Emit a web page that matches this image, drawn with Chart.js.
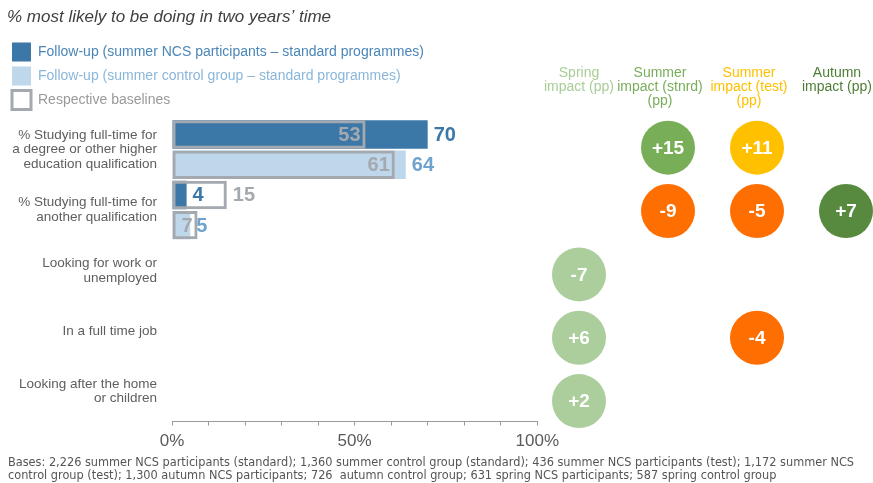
<!DOCTYPE html>
<html>
<head>
<meta charset="utf-8">
<script src="https://cdn.jsdelivr.net/npm/chart.js@4.4.1/dist/chart.umd.min.js"></script>
<style>
  body { margin: 0; background: #fff; }
  #wrap { position: relative; width: 873px; height: 483px; }
  canvas { position: absolute; left: 0; top: 0; }
</style>
</head>
<body>
<div id="wrap">
  <canvas id="barras" width="565" height="483"></canvas>
  <canvas id="impacto" width="873" height="483"></canvas>
</div>
<script>
const categorias = [
  ["% Studying full-time for", "a degree or other higher", "education qualification"],
  ["% Studying full-time for", "another qualification"],
  ["Looking for work or", "unemployed"],
  ["In a full time job"],
  ["Looking after the home", "or children"]
];
const participantes = [70, 4, null, null, null];
const controle = [64, 5, null, null, null];
const participantesBase = [53, 15, null, null, null];
const controleBase = [61, 7, null, null, null];
const rotulosX = [0, 50, 100];

const colunas = [
  ["Spring", "impact (pp)"],
  ["Summer", "impact (stnrd)", "(pp)"],
  ["Summer", "impact (test)", "(pp)"],
  ["Autumn", "impact (pp)"]
];
const impactoSpring = [null, null, -7, 6, 2];
const impactoSummerStd = [15, -9, null, null, null];
const impactoSummerTest = [11, -5, null, -4, null];
const impactoAutumn = [null, 7, null, null, null];

const rodape = [
  "Bases: 2,226 summer NCS participants (standard); 1,360 summer control group (standard); 436 summer NCS participants (test); 1,172 summer NCS",
  "control group (test); 1,300 autumn NCS participants; 726  autumn control group; 631 spring NCS participants; 587 spring control group"
];

const azul = "#3b77a7";
const azulClaro = "#bfd7ea";
const cinzaBase = "#a3a9af";
const laranja = "#ff6e00";
const coresColunas = ["#abce9c", "#78ae58", "#ffc000", "#578a3f"];
const coresTitulos = ["#a8cc97", "#78ad5a", "#ffc000", "#4e7d36"];

Chart.defaults.font.family = '"Liberation Sans", Arial, sans-serif';

// numeros das barras: follow-up logo depois do fim da barra, baseline dentro do contorno
const rotulosBarras = {
  id: "rotulosBarras",
  afterDatasetsDraw(chart) {
    const ctx = chart.ctx;
    const pares = [[2, 0, azul], [3, 1, "#6fa3cf"]];
    ctx.save();
    ctx.font = 'bold 20px "Liberation Sans", Arial, sans-serif';
    ctx.textBaseline = "middle";
    pares.forEach(([iF, iB, cor]) => {
      const barrasF = chart.getDatasetMeta(iF).data;
      const barrasB = chart.getDatasetMeta(iB).data;
      chart.data.datasets[iF].data.forEach((v, j) => {
        if (v == null) return;
        const b = chart.data.datasets[iB].data[j];
        const fim = barrasF[j].x, fimB = barrasB[j].x, y = barrasF[j].y + 1;
        const inicioF = fim + 6;
        ctx.fillStyle = cinzaBase;
        if (inicioF < fimB - 5) {
          ctx.textAlign = "left";
          ctx.fillText(b, fimB + 6, y);
        } else {
          ctx.textAlign = "right";
          ctx.fillText(b, fimB - 5, y);
        }
        ctx.fillStyle = cor;
        ctx.textAlign = "left";
        ctx.fillText(v, inicioF, y);
      });
    });
    ctx.restore();
  }
};

new Chart(document.getElementById("barras"), {
  type: "bar",
  data: {
    labels: categorias,
    datasets: [
      // contornos da baseline ficam na mesma faixa (stack) da barra de follow-up
      { label: "Baseline participants", data: participantesBase, stack: "p", order: 1,
        backgroundColor: "rgba(0,0,0,0)", borderColor: cinzaBase, borderWidth: 3, borderSkipped: false },
      { label: "Baseline control", data: controleBase, stack: "c", order: 1,
        backgroundColor: "rgba(0,0,0,0)", borderColor: cinzaBase, borderWidth: 3, borderSkipped: false },
      { label: "Participants", data: participantes, stack: "p", order: 2, backgroundColor: azul },
      { label: "Control", data: controle, stack: "c", order: 2, backgroundColor: azulClaro }
    ]
  },
  options: {
    indexAxis: "y",
    responsive: false,
    animation: false,
    datasets: { bar: { categoryPercentage: 1, barPercentage: 0.94 } },
    layout: { padding: { left: 7, right: 18, top: 0, bottom: 25 }, autoPadding: false },
    scales: {
      x: {
        min: 0, max: 100, stacked: false,
        ticks: {
          stepSize: 10, autoSkip: false, maxRotation: 0, padding: 6,
          font: { size: 17 }, color: "#5a5a5a",
          callback: v => rotulosX.includes(v) ? v + "%" : ""
        },
        grid: { drawOnChartArea: false, tickLength: 4, color: "#9a9a9a" },
        border: { color: "#9a9a9a" }
      },
      y: {
        ticks: { autoSkip: false, padding: 15, font: { size: 13.5, lineHeight: 1.08 }, color: "#5e5e5e" },
        grid: { display: false, drawTicks: false },
        border: { display: false },
        afterFit: s => { s.width = 165; }
      }
    },
    plugins: {
      title: {
        display: true, align: "start",
        text: "% most likely to be doing in two years’ time",
        font: { size: 17, style: "italic", weight: "normal" }, color: "#404040",
        padding: { top: 7, bottom: 10 }
      },
      legend: {
        position: "top", align: "start",
        labels: {
          boxWidth: 19, boxHeight: 19, padding: 5, font: { size: 14 },
          generateLabels: () => [
            { text: "Follow-up (summer NCS participants – standard programmes)", fillStyle: azul, lineWidth: 0, fontColor: "#4a86b8", datasetIndex: 2 },
            { text: "Follow-up (summer control group – standard programmes)", fillStyle: azulClaro, lineWidth: 0, fontColor: "#8ab6da", datasetIndex: 3 },
            { text: "Respective baselines", fillStyle: "#fff", strokeStyle: cinzaBase, lineWidth: 3, fontColor: "#9a9a9a", datasetIndex: 0 }
          ]
        },
        onClick: () => {}
      },
      tooltip: { enabled: false }
    }
  },
  plugins: [rotulosBarras]
});

// bolhas de impacto (pp): uma coluna por programa
function pontos(valores, coluna) {
  return valores
    .map((v, linha) => v == null ? null : { x: coluna, y: linha, v: v })
    .filter(p => p);
}
const series = [impactoSpring, impactoSummerStd, impactoSummerTest, impactoAutumn];

const textoBolhas = {
  id: "textoBolhas",
  afterDatasetsDraw(chart) {
    const ctx = chart.ctx;
    ctx.save();
    ctx.font = 'bold 19px "Liberation Sans", Arial, sans-serif';
    ctx.fillStyle = "#fff";
    ctx.textAlign = "center";
    ctx.textBaseline = "middle";
    chart.data.datasets.forEach((ds, i) => {
      chart.getDatasetMeta(i).data.forEach((pt, j) => {
        const v = ds.data[j].v;
        ctx.fillText((v > 0 ? "+" : "") + v, pt.x, pt.y + 1);
      });
    });
    ctx.restore();
  }
};

const titulosColunas = {
  id: "titulosColunas",
  afterDraw(chart) {
    const ctx = chart.ctx;
    const x = chart.scales.x;
    ctx.save();
    ctx.font = '14px "Liberation Sans", Arial, sans-serif';
    ctx.textAlign = "center";
    ctx.textBaseline = "middle";
    colunas.forEach((linhas, i) => {
      const larg = Math.max(...linhas.map(l => ctx.measureText(l).width));
      const cx = Math.min(x.getPixelForValue(i) - (i === 1 || i === 2 ? 8 : 0), chart.width - 1 - larg / 2);
      ctx.fillStyle = coresTitulos[i];
      linhas.forEach((l, k) => ctx.fillText(l, cx, 73 + k * 14));
    });
    ctx.restore();
  }
};

new Chart(document.getElementById("impacto"), {
  type: "bubble",
  data: {
    datasets: series.map((valores, i) => ({
      label: colunas[i].join(" "),
      data: pontos(valores, i),
      radius: 27,
      borderWidth: 0,
      clip: false,
      backgroundColor: c => (i > 0 && c.raw && c.raw.v < 0) ? laranja : coresColunas[i]
    }))
  },
  options: {
    responsive: false,
    animation: false,
    layout: { padding: { left: 8, right: 0, top: 116, bottom: 0 } },
    scales: {
      x: { type: "linear", display: false, min: 0, max: 3 },
      y: {
        type: "linear", min: -0.5, max: 4.5, reverse: true,
        ticks: { display: false }, grid: { display: false }, border: { display: false },
        afterFit: s => { s.width = 571; }
      }
    },
    plugins: {
      legend: { display: false },
      tooltip: { enabled: false },
      subtitle: {
        display: true, position: "bottom", align: "start",
        text: rodape,
        font: { family: '"Liberation Sans Narrow", "DejaVu Sans Condensed", sans-serif', size: 12.6, lineHeight: 1.04 },
        color: "#555",
        padding: { top: 23, bottom: 1 }
      }
    }
  },
  plugins: [textoBolhas, titulosColunas]
});
</script>
</body>
</html>
